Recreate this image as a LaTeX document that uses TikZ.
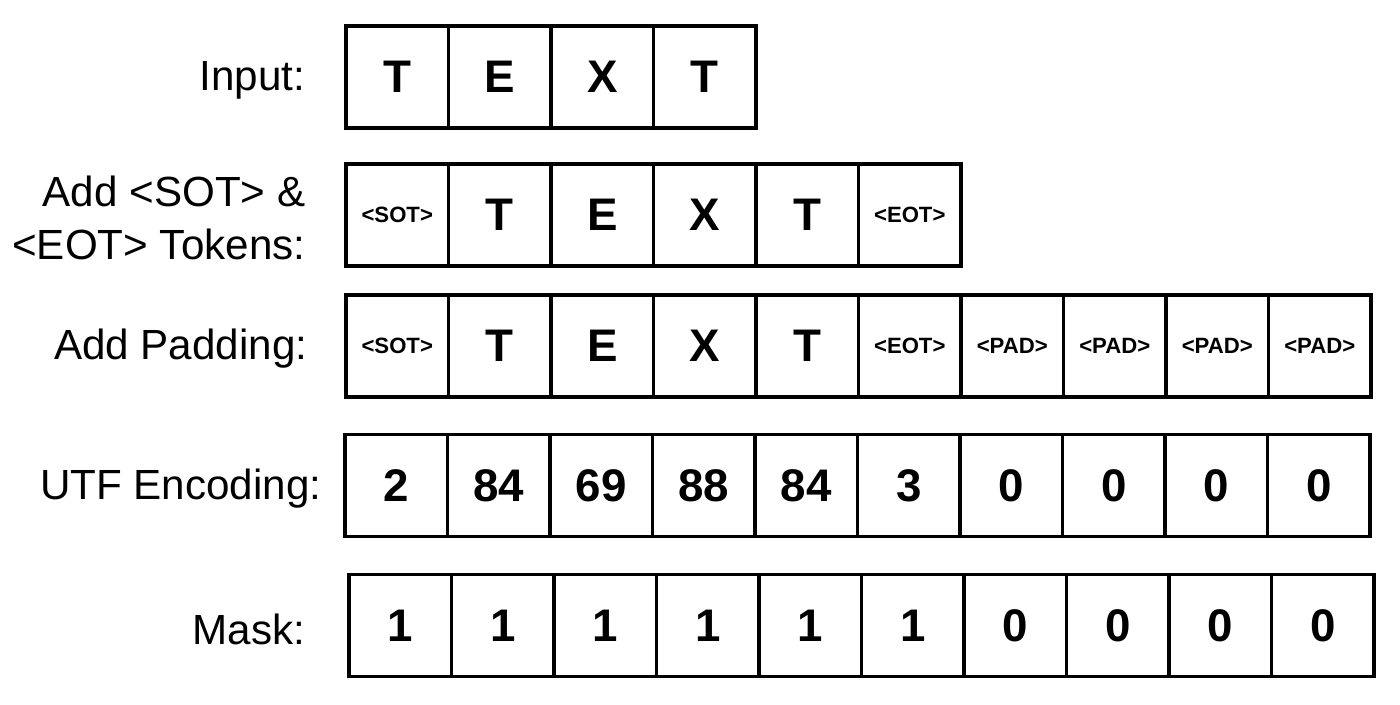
\documentclass[tikz,border=0pt]{standalone}
\usepackage{fontspec}
\setmainfont{Liberation Sans}
\tikzset{
  cell/.style={draw=black, line width=0.9pt, minimum width=1.025cm, minimum height=1.02cm, inner sep=0pt, outer sep=0pt, font=\fontsize{13}{15}\selectfont\bfseries},
  tok/.style={cell, font=\fontsize{6.3}{7}\selectfont\bfseries},
  rowlbl/.style={anchor=east, align=right, inner sep=0pt, font=\fontsize{12}{15}\selectfont}
}
\begin{document}
\begin{tikzpicture}[]
\useasboundingbox (0,0) rectangle (14,-7.04);

% labels
\node[rowlbl] (inlbl) at (3.06,-0.80) {Input:};
\node[rowlbl] (toklbl) at (3.06,-2.18) {Add <SOT> \&\\<EOT> Tokens:};
\node[rowlbl] (padlbl) at (3.08,-3.49) {Add Padding:};
\node[rowlbl] (utflbl) at (3.22,-4.89) {UTF Encoding:};
\node[rowlbl] (masklbl) at (3.06,-6.29) {Mask:};

% input
\foreach \t [count=\i] in {T,E,X,T}
	\node[cell] (in\i) at ({3.46+0.5125+(\i-1)*1.025},-0.77) {\t};

% with start and end tokens
\node[tok] (tk1) at ({3.46+0.5125},-2.15) {<SOT>};
\foreach \t [count=\i from 2] in {T,E,X,T}
	\node[cell] (tk\i) at ({3.46+0.5125+(\i-1)*1.025},-2.15) {\t};
\node[tok] (tk6) at ({3.46+0.5125+5*1.025},-2.15) {<EOT>};

% padded
\node[tok] (pd1) at ({3.46+0.5125},-3.46) {<SOT>};
\foreach \t [count=\i from 2] in {T,E,X,T}
	\node[cell] (pd\i) at ({3.46+0.5125+(\i-1)*1.025},-3.46) {\t};
\foreach \t [count=\i from 6] in {<EOT>,<PAD>,<PAD>,<PAD>,<PAD>}
	\node[tok] (pd\i) at ({3.46+0.5125+(\i-1)*1.025},-3.46) {\t};

% encoding
\foreach \t [count=\i] in {2,84,69,88,84,3,0,0,0,0}
	\node[cell] (utf\i) at ({3.45+0.5125+(\i-1)*1.025},-4.855) {\t};

% mask
\foreach \t [count=\i] in {1,1,1,1,1,1,0,0,0,0}
	\node[cell] (mk\i) at ({3.49+0.5125+(\i-1)*1.025},-6.255) {\t};
\end{tikzpicture}
\end{document}
